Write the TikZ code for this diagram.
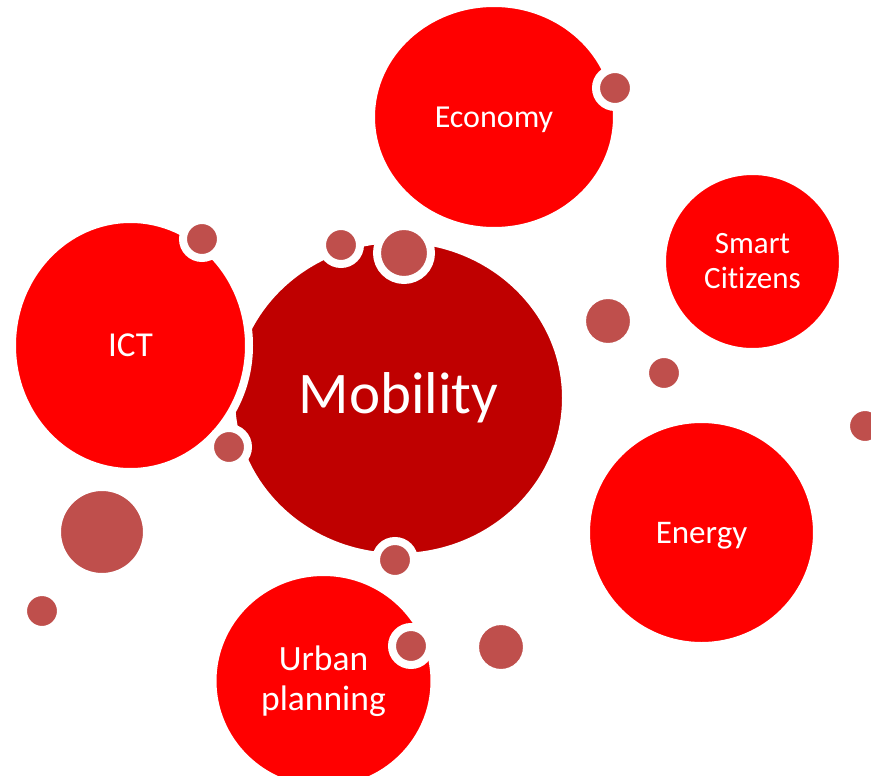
\documentclass[tikz,border=0pt]{standalone}
\usepackage{fontspec}
\setmainfont{Carlito}[Ligatures=NoCommon]
\usetikzlibrary{shapes.geometric}
\definecolor{brightred}{rgb}{1.0, 0.0, 0.0}
\definecolor{mobilityred}{rgb}{0.75, 0.0, 0.0}
\definecolor{dotred}{rgb}{0.75, 0.31, 0.30}

\begin{document}
\begin{tikzpicture}[x=1pt,y=-1pt,
  bubble/.style={ellipse,draw=white,line width=8pt,fill=brightred,text=white,inner sep=0pt,align=center},
  dot/.style={circle,draw=white,line width=8pt,fill=dotred,inner sep=0pt}]
\useasboundingbox (0,0) rectangle (871,776);
\node[bubble,fill=mobilityred,minimum width=335pt,minimum height=318pt,font=\fontsize{59}{70}\selectfont] (mobility) at (398.5,398) {Mobility};
\node[bubble,minimum width=237pt,minimum height=253pt,font=\fontsize{35}{42}\selectfont] (ict) at (130.5,345.5) {ICT};
\node[bubble,minimum width=246pt,minimum height=228pt,text depth=0pt,font=\fontsize{32}{39}\selectfont] (economy) at (494,117) {Economy};
\node[bubble,minimum width=181pt,minimum height=181pt,font=\fontsize{31}{35}\selectfont] (citizens) at (752.5,261.5) {Smart\\Citizens};
\node[bubble,minimum width=231pt,minimum height=227pt,text depth=0pt,font=\fontsize{33}{40}\selectfont] (energy) at (701.5,532.5) {Energy};
\node[bubble,minimum width=222pt,minimum height=218pt,font=\fontsize{35.5}{40}\selectfont] (urban) at (323.5,681) {Urban\\planning};
\node[dot,minimum size=38pt] (d1) at (615,88) {};
\node[dot,minimum size=38pt] (d2) at (202,239) {};
\node[dot,minimum size=38pt] (d3) at (341,245) {};
\node[dot,minimum size=54pt] (d4) at (404,253) {};
\node[dot,minimum size=52pt] (d5) at (608,321) {};
\node[dot,minimum size=38pt] (d6) at (664,373) {};
\node[dot,minimum size=38pt] (d7) at (865,426) {};
\node[dot,minimum size=38pt] (d8) at (229,447) {};
\node[dot,minimum size=90pt] (d9) at (102,532) {};
\node[dot,minimum size=38pt] (d10) at (42,611) {};
\node[dot,minimum size=38pt] (d11) at (395,560) {};
\node[dot,minimum size=38pt] (d12) at (411,646) {};
\node[dot,minimum size=52pt] (d13) at (501,647) {};
\end{tikzpicture}
\end{document}
